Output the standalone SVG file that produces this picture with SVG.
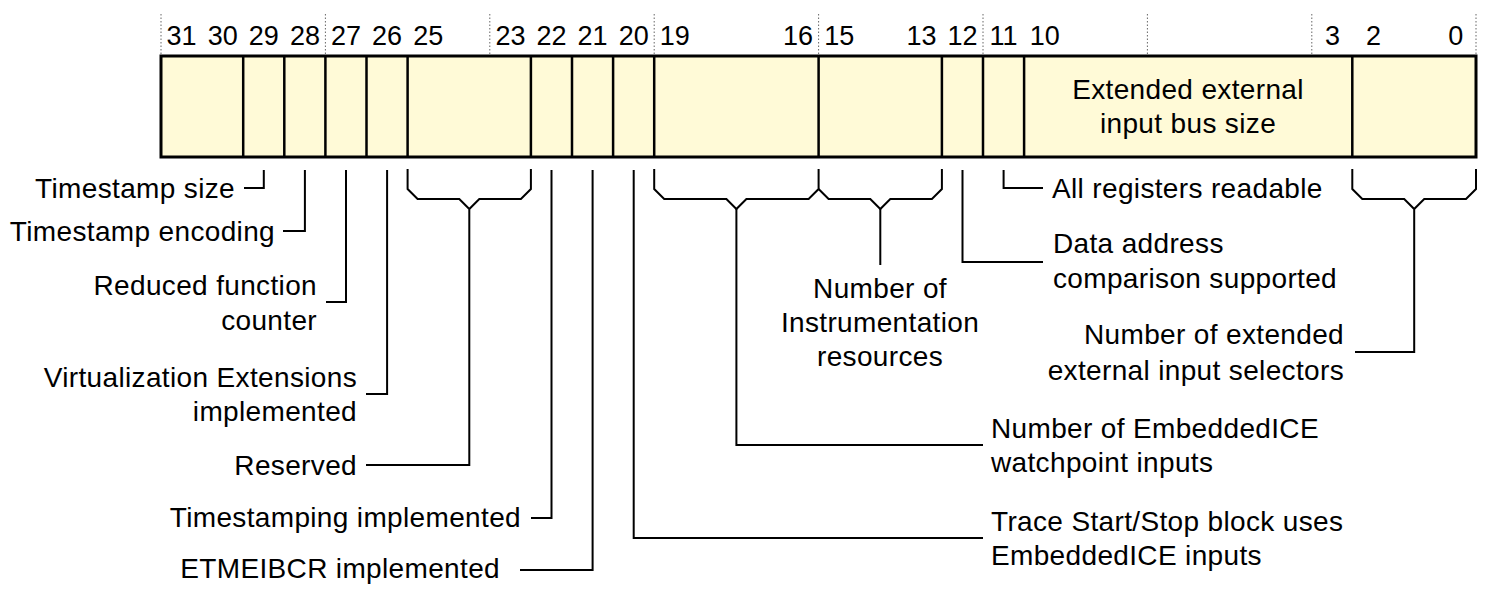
<svg xmlns="http://www.w3.org/2000/svg" width="1485" height="589" viewBox="0 0 1485 589">
<style>
text{font-family:"Liberation Sans",Arial,sans-serif;fill:#000}
.bit{font-size:27px;text-anchor:middle}
.lbl{font-size:28px;letter-spacing:0.35px}
.e{text-anchor:end}
.m{text-anchor:middle}
.tick{stroke:#666;stroke-width:1;stroke-dasharray:1.5,2;fill:none}
.div{stroke:#000;stroke-width:2.5}
.ln{stroke:#000;stroke-width:2;fill:none;stroke-linejoin:miter}
</style>
<rect width="1485" height="589" fill="#fff"/>
<g id="ticks">
<path class="tick" d="M161,14V55M325.4,14V55M489.8,14V55M654.2,14V55M818.6,14V55M983,14V55M1147.4,14V55M1311.8,14V55M1476,14V55"/>
</g>
<g id="bit-numbers">
<text class="bit" x="181.6" y="45">31</text>
<text class="bit" x="222.7" y="45">30</text>
<text class="bit" x="263.8" y="45">29</text>
<text class="bit" x="304.9" y="45">28</text>
<text class="bit" x="346" y="45">27</text>
<text class="bit" x="387.1" y="45">26</text>
<text class="bit" x="428.2" y="45">25</text>
<text class="bit" x="510.4" y="45">23</text>
<text class="bit" x="551.5" y="45">22</text>
<text class="bit" x="592.6" y="45">21</text>
<text class="bit" x="633.7" y="45">20</text>
<text class="bit" x="674.8" y="45">19</text>
<text class="bit" x="798.1" y="45">16</text>
<text class="bit" x="839.2" y="45">15</text>
<text class="bit" x="921.4" y="45">13</text>
<text class="bit" x="962.5" y="45">12</text>
<text class="bit" x="1003.6" y="45">11</text>
<text class="bit" x="1044.7" y="45">10</text>
<text class="bit" x="1332.4" y="45">3</text>
<text class="bit" x="1373.5" y="45">2</text>
<text class="bit" x="1455.7" y="45">0</text>
</g>
<g id="register">
<rect x="161" y="56" width="1315" height="101" fill="#FFFAD7" stroke="#000" stroke-width="3"/>
<path class="div" d="M243.2,56V157M284.3,56V157M325.4,56V157M366.5,56V157M407.6,56V157M530.9,56V157M572,56V157M613.1,56V157M654.2,56V157M818.6,56V157M941.9,56V157M983,56V157M1024.1,56V157M1352.3,56V157"/>
<text class="lbl m" x="1188" y="99">Extended external</text>
<text class="lbl m" x="1188" y="133">input bus size</text>
</g>
<g id="connectors">
<path class="ln" d="M263.8,170V188H244"/>
<path class="ln" d="M304.9,170V231H283"/>
<path class="ln" d="M346,170V302H326"/>
<path class="ln" d="M387.1,170V394H366"/>
<path class="ln" d="M407.6,169V189L417.6,199H459.3L469.3,209L479.3,199H520.9L530.9,189V169M469.3,209V465H366"/>
<path class="ln" d="M551.5,170V518H531"/>
<path class="ln" d="M592.6,170V570H520"/>
<path class="ln" d="M633.7,170V538H983"/>
<path class="ln" d="M654.2,169V189L664.2,199H726.4L736.4,209L746.4,199H808.6L818.6,189V169"/>
<path class="ln" d="M736.4,209V445H983"/>
<path class="ln" d="M818.6,189L828.6,199H870.3L880.3,209L890.3,199H931.9L941.9,189V169"/>
<path class="ln" d="M880.3,209V265"/>
<path class="ln" d="M962.5,170V262H1043"/>
<path class="ln" d="M1003.6,170V188H1043"/>
<path class="ln" d="M1352.3,169V189L1362.3,199H1404.2L1414.2,209L1424.2,199H1466L1476,189V169M1414.2,209V352H1355"/>
</g>
<g id="label-timestamp-size"><text class="lbl e" x="235" y="198">Timestamp size</text></g>
<g id="label-timestamp-encoding"><text class="lbl e" x="275" y="241">Timestamp encoding</text></g>
<g id="label-reduced-function"><text class="lbl e" x="317" y="295">Reduced function</text><text class="lbl e" x="317" y="330">counter</text></g>
<g id="label-virtualization"><text class="lbl e" x="357" y="387">Virtualization Extensions</text><text class="lbl e" x="357" y="421">implemented</text></g>
<g id="label-reserved"><text class="lbl e" x="357" y="475">Reserved</text></g>
<g id="label-timestamping"><text class="lbl e" x="521" y="527">Timestamping implemented</text></g>
<g id="label-etmeibcr"><text class="lbl e" x="500" y="578">ETMEIBCR implemented</text></g>
<g id="label-all-registers"><text class="lbl" x="1052" y="198">All registers readable</text></g>
<g id="label-data-address"><text class="lbl" x="1053" y="253">Data address</text><text class="lbl" x="1053" y="288">comparison supported</text></g>
<g id="label-instrumentation"><text class="lbl m" x="880" y="298">Number of</text><text class="lbl m" x="880" y="332">Instrumentation</text><text class="lbl m" x="880" y="366">resources</text></g>
<g id="label-ext-selectors"><text class="lbl e" x="1344" y="344">Number of extended</text><text class="lbl e" x="1344" y="380">external input selectors</text></g>
<g id="label-watchpoint"><text class="lbl" x="991" y="438">Number of EmbeddedICE</text><text class="lbl" x="991" y="472">watchpoint inputs</text></g>
<g id="label-trace"><text class="lbl" x="991" y="531">Trace Start/Stop block uses</text><text class="lbl" x="991" y="565">EmbeddedICE inputs</text></g>
</svg>
